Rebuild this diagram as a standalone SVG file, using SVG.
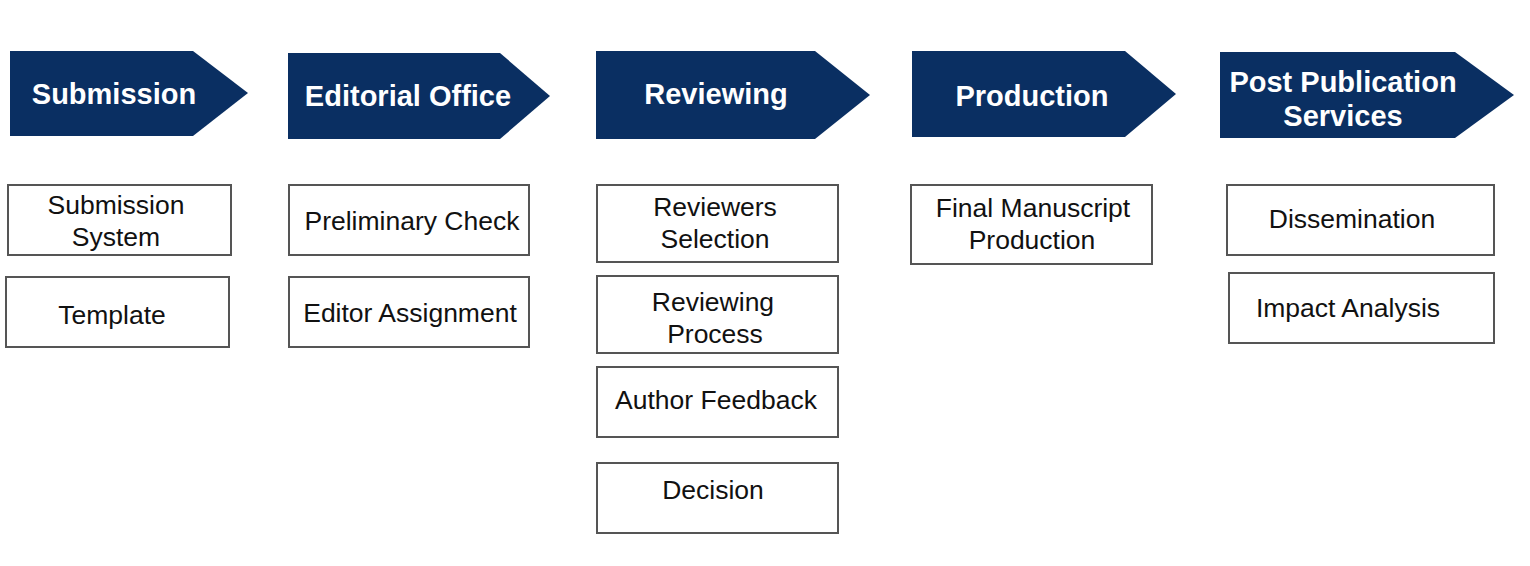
<svg xmlns="http://www.w3.org/2000/svg" width="1530" height="566" viewBox="0 0 1530 566">
<style>
.stage{fill:#0a2f62;}
.st{font-family:"Liberation Sans",Arial,sans-serif;font-weight:bold;font-size:29px;fill:#ffffff;text-anchor:middle;}
.box{fill:#ffffff;stroke:#555555;stroke-width:2;}
.bt{font-family:"Liberation Sans",Arial,sans-serif;font-size:26.5px;fill:#111111;text-anchor:middle;}
</style>
<rect width="1530" height="566" fill="#ffffff"/>
<g id="stage-submission">
<polygon class="stage" points="10,51 193,51 248,93 193,136 10,136"/>
<text class="st" x="114" y="104">Submission</text>
</g>
<g id="stage-editorial">
<polygon class="stage" points="288,53 500,53 550,96 500,139 288,139"/>
<text class="st" x="408" y="106">Editorial Office</text>
</g>
<g id="stage-reviewing">
<polygon class="stage" points="596,51 815,51 870,95 815,139 596,139"/>
<text class="st" x="716" y="104">Reviewing</text>
</g>
<g id="stage-production">
<polygon class="stage" points="912,51 1125,51 1176,94 1125,137 912,137"/>
<text class="st" x="1032" y="106">Production</text>
</g>
<g id="stage-post">
<polygon class="stage" points="1220,52 1455,52 1514,95 1455,138 1220,138"/>
<text class="st" x="1343" y="92">Post Publication</text>
<text class="st" x="1343" y="126">Services</text>
</g>
<g id="connectors"></g>
<g id="submission-system">
<rect class="box" x="8" y="185" width="223" height="70"/>
<text class="bt" x="116" y="214">Submission</text>
<text class="bt" x="116" y="246">System</text>
</g>
<g id="template">
<rect class="box" x="6" y="277" width="223" height="70"/>
<text class="bt" x="112" y="324">Template</text>
</g>
<g id="preliminary-check">
<rect class="box" x="289" y="185" width="240" height="70"/>
<text class="bt" x="412" y="230">Preliminary Check</text>
</g>
<g id="editor-assignment">
<rect class="box" x="289" y="277" width="240" height="70"/>
<text class="bt" x="410" y="322">Editor Assignment</text>
</g>
<g id="reviewers-selection">
<rect class="box" x="597" y="185" width="241" height="77"/>
<text class="bt" x="715" y="216">Reviewers</text>
<text class="bt" x="715" y="248">Selection</text>
</g>
<g id="reviewing-process">
<rect class="box" x="597" y="276" width="241" height="77"/>
<text class="bt" x="713" y="311">Reviewing</text>
<text class="bt" x="715" y="343">Process</text>
</g>
<g id="author-feedback">
<rect class="box" x="597" y="367" width="241" height="70"/>
<text class="bt" x="716" y="409">Author Feedback</text>
</g>
<g id="decision">
<rect class="box" x="597" y="463" width="241" height="70"/>
<text class="bt" x="713" y="499">Decision</text>
</g>
<g id="final-manuscript">
<rect class="box" x="911" y="185" width="241" height="79"/>
<text class="bt" x="1033" y="217">Final Manuscript</text>
<text class="bt" x="1032" y="249">Production</text>
</g>
<g id="dissemination">
<rect class="box" x="1227" y="185" width="267" height="70"/>
<text class="bt" x="1352" y="228">Dissemination</text>
</g>
<g id="impact-analysis">
<rect class="box" x="1229" y="273" width="265" height="70"/>
<text class="bt" x="1348" y="317">Impact Analysis</text>
</g>
</svg>
